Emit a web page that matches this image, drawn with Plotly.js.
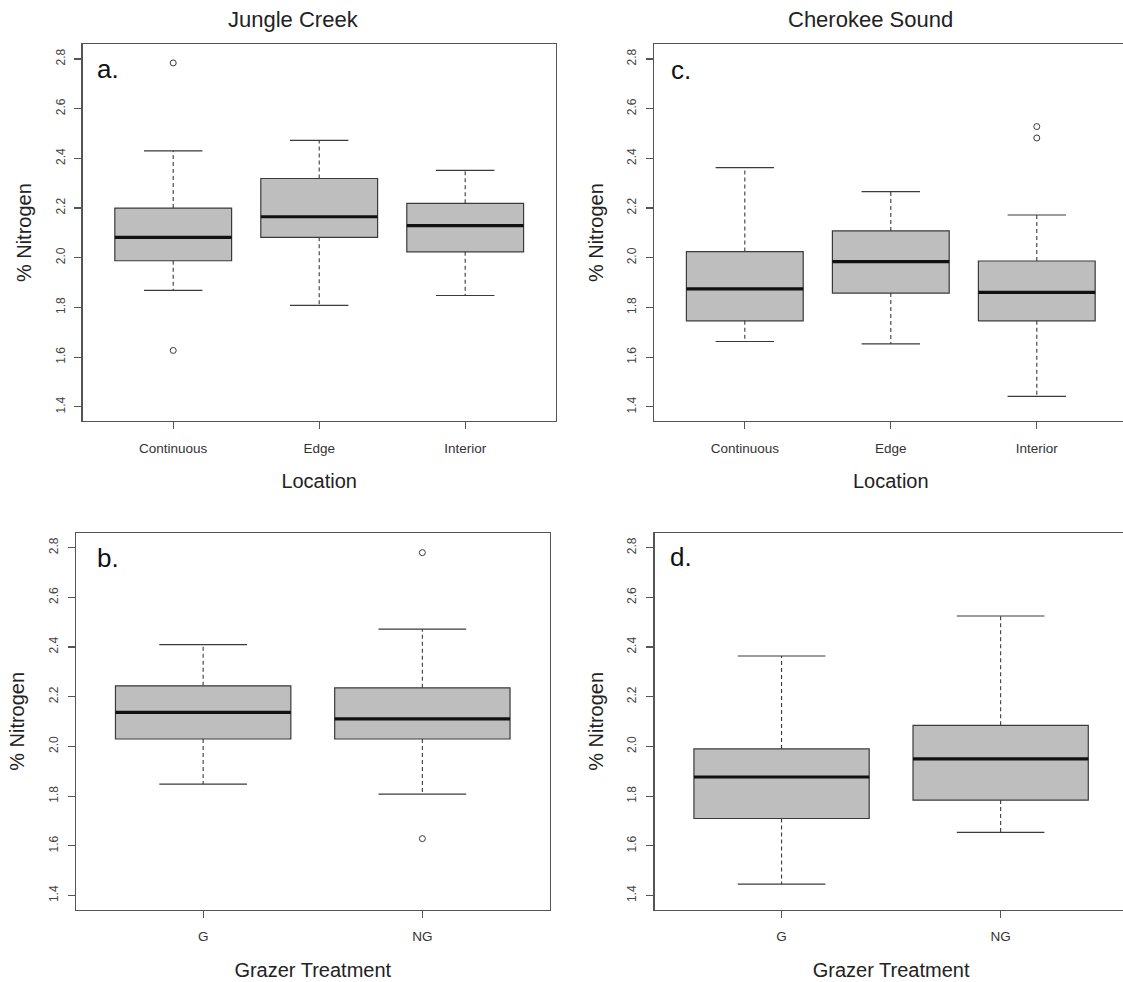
<!DOCTYPE html>
<html>
<head>
<meta charset="utf-8">
<script src="https://cdn.plot.ly/plotly-3.0.1.min.js"></script>
<style>html,body{margin:0;padding:0;overflow:hidden;background:#fff}</style>
</head>
<body>
<div id="chart" style="width:1130px;height:982px"></div>
<script>
// ---------- Data ----------
const locationCats = ["Continuous", "Edge", "Interior"];
const grazerCats = ["G", "NG"];
const yTickVals = [1.4, 1.6, 1.8, 2.0, 2.2, 2.4, 2.6, 2.8];

// a. Jungle Creek by Location
const jcLocLower  = [1.869, 1.808, 1.848];
const jcLocQ1     = [1.988, 2.082, 2.024];
const jcLocMedian = [2.082, 2.165, 2.129];
const jcLocQ3     = [2.200, 2.319, 2.219];
const jcLocUpper  = [2.430, 2.472, 2.352];
const jcLocOutCat = ["Continuous", "Continuous"];
const jcLocOutVal = [2.784, 1.627];

// b. Jungle Creek by Grazer Treatment
const jcGrzLower  = [1.848, 1.808];
const jcGrzQ1     = [2.030, 2.030];
const jcGrzMedian = [2.137, 2.111];
const jcGrzQ3     = [2.244, 2.236];
const jcGrzUpper  = [2.410, 2.472];
const jcGrzOutCat = ["NG", "NG"];
const jcGrzOutVal = [2.780, 1.629];

// c. Cherokee Sound by Location
const csLocLower  = [1.663, 1.653, 1.442];
const csLocQ1     = [1.746, 1.858, 1.746];
const csLocMedian = [1.875, 1.984, 1.861];
const csLocQ3     = [2.025, 2.108, 1.987];
const csLocUpper  = [2.363, 2.266, 2.172];
const csLocOutCat = ["Interior", "Interior"];
const csLocOutVal = [2.528, 2.482];

// d. Cherokee Sound by Grazer Treatment
const csGrzLower  = [1.446, 1.654];
const csGrzQ1     = [1.710, 1.784];
const csGrzMedian = [1.877, 1.950];
const csGrzQ3     = [1.990, 2.085];
const csGrzUpper  = [2.364, 2.525];
const csGrzOutCat = [];
const csGrzOutVal = [];

// ---------- Layout helpers ----------
const W = 1130, H = 982;
const px2x = p => p / W;
const px2y = p => 1 - p / H;
const FONT = "Liberation Sans, Arial, Helvetica, sans-serif";
const BOXW = 0.8, CAPW = 0.4;

function panelTraces(cats, lower, q1, med, q3, upper, outCat, outVal, xa, ya) {
  const pos = cats.map((c, i) => i + 1);
  const traces = [];
  traces.push({
    type: "bar", x: pos, base: q1, y: q3.map((v, i) => v - q1[i]), width: BOXW,
    marker: {color: "#bebebe", line: {color: "#3a3a3a", width: 1.2}},
    xaxis: xa, yaxis: ya, hoverinfo: "skip", showlegend: false
  });
  const wx = [], wy = [];
  pos.forEach((p, i) => { wx.push(p, p, null, p, p, null); wy.push(q3[i], upper[i], null, q1[i], lower[i], null); });
  traces.push({type: "scatter", mode: "lines", x: wx, y: wy, xaxis: xa, yaxis: ya,
    line: {color: "#3a3a3a", width: 1.1, dash: "4px,3px"}, hoverinfo: "skip", showlegend: false});
  const cx = [], cy = [];
  pos.forEach((p, i) => {
    cx.push(p - CAPW / 2, p + CAPW / 2, null, p - CAPW / 2, p + CAPW / 2, null);
    cy.push(upper[i], upper[i], null, lower[i], lower[i], null);
  });
  traces.push({type: "scatter", mode: "lines", x: cx, y: cy, xaxis: xa, yaxis: ya,
    line: {color: "#3a3a3a", width: 1.2}, hoverinfo: "skip", showlegend: false});
  const mx = [], my = [];
  pos.forEach((p, i) => { mx.push(p - BOXW / 2, p + BOXW / 2, null); my.push(med[i], med[i], null); });
  traces.push({type: "scatter", mode: "lines", x: mx, y: my, xaxis: xa, yaxis: ya,
    line: {color: "#111", width: 3.2}, hoverinfo: "skip", showlegend: false});
  if (outVal.length) {
    traces.push({type: "scatter", mode: "markers", x: outCat.map(c => cats.indexOf(c) + 1), y: outVal,
      xaxis: xa, yaxis: ya, marker: {symbol: "circle-open", size: 6, color: "#3a3a3a", line: {width: 1}},
      hoverinfo: "skip", showlegend: false});
  }
  return traces;
}

const data = [].concat(
  panelTraces(locationCats, jcLocLower, jcLocQ1, jcLocMedian, jcLocQ3, jcLocUpper, jcLocOutCat, jcLocOutVal, "x", "y"),
  panelTraces(grazerCats, jcGrzLower, jcGrzQ1, jcGrzMedian, jcGrzQ3, jcGrzUpper, jcGrzOutCat, jcGrzOutVal, "x2", "y2"),
  panelTraces(locationCats, csLocLower, csLocQ1, csLocMedian, csLocQ3, csLocUpper, csLocOutCat, csLocOutVal, "x3", "y3"),
  panelTraces(grazerCats, csGrzLower, csGrzQ1, csGrzMedian, csGrzQ3, csGrzUpper, csGrzOutCat, csGrzOutVal, "x4", "y4")
);

function xAxis(cats, domPx, anchor, title) {
  const n = cats.length;
  const pad = 0.04 * n;
  return {
    domain: [px2x(domPx[0]), px2x(domPx[1])], anchor: anchor,
    range: [0.5 - pad, n + 0.5 + pad],
    tickmode: "array", tickvals: cats.map((c, i) => i + 1), ticktext: cats,
    ticks: "outside", ticklen: 7, tickwidth: 1.2, tickcolor: "#555",
    ticklabelstandoff: 7,
    showline: true, mirror: true, linecolor: "#555", linewidth: 1.4,
    showgrid: false, zeroline: false, fixedrange: true,
    tickfont: {family: FONT, size: 13.5, color: "#333"},
    title: {text: title, font: {family: FONT, size: 20, color: "#222"}, standoff: 19}
  };
}
function yAxis(domPx, anchor) {
  return {
    domain: [px2y(domPx[1]), px2y(domPx[0])], anchor: anchor,
    range: [1.343, 2.859],
    tickmode: "array", tickvals: yTickVals, ticktext: yTickVals.map(v => v.toFixed(1)),
    tickangle: -90,
    ticks: "outside", ticklen: 7, tickwidth: 1.2, tickcolor: "#555",
    ticklabelstandoff: 5,
    showline: true, mirror: true, linecolor: "#555", linewidth: 1.4,
    showgrid: false, zeroline: false, fixedrange: true,
    tickfont: {family: FONT, size: 12, color: "#444"},
    title: {text: "% Nitrogen", font: {family: FONT, size: 20, color: "#222"}, standoff: 16}
  };
}

const topPx = [44.3, 421], botPx = [533, 909.7];
const layout = {
  width: W, height: H,
  margin: {l: 0, r: 0, t: 0, b: 0, autoexpand: false},
  paper_bgcolor: "#fff", plot_bgcolor: "#fff",
  showlegend: false, bargap: 0,
  xaxis:  xAxis(locationCats, [82.7, 555.7], "y", "Location"),
  yaxis:  yAxis(topPx, "x"),
  xaxis2: xAxis(grazerCats, [76, 549.5], "y2", "Grazer Treatment"),
  yaxis2: yAxis(botPx, "x2"),
  xaxis3: xAxis(locationCats, [654.3, 1127.3], "y3", "Location"),
  yaxis3: yAxis(topPx, "x3"),
  xaxis4: xAxis(grazerCats, [654.5, 1127.7], "y4", "Grazer Treatment"),
  yaxis4: yAxis(botPx, "x4"),
  annotations: [
    {text: "Jungle Creek", x: px2x(293), y: px2y(20), xref: "paper", yref: "paper", xanchor: "center", yanchor: "middle", showarrow: false, font: {family: FONT, size: 22, color: "#222"}},
    {text: "Cherokee Sound", x: px2x(870), y: px2y(20), xref: "paper", yref: "paper", xanchor: "center", yanchor: "middle", showarrow: false, font: {family: FONT, size: 22, color: "#222"}},
    {text: "a.", x: px2x(95), y: px2y(69), xref: "paper", yref: "paper", xanchor: "left", yanchor: "middle", showarrow: false, font: {family: FONT, size: 26, color: "#111"}},
    {text: "b.", x: px2x(95), y: px2y(558), xref: "paper", yref: "paper", xanchor: "left", yanchor: "middle", showarrow: false, font: {family: FONT, size: 26, color: "#111"}},
    {text: "c.", x: px2x(669), y: px2y(70), xref: "paper", yref: "paper", xanchor: "left", yanchor: "middle", showarrow: false, font: {family: FONT, size: 26, color: "#111"}},
    {text: "d.", x: px2x(668), y: px2y(557), xref: "paper", yref: "paper", xanchor: "left", yanchor: "middle", showarrow: false, font: {family: FONT, size: 26, color: "#111"}}
  ]
};

Plotly.newPlot("chart", data, layout, {displayModeBar: false, staticPlot: true});
</script>
</body>
</html>
